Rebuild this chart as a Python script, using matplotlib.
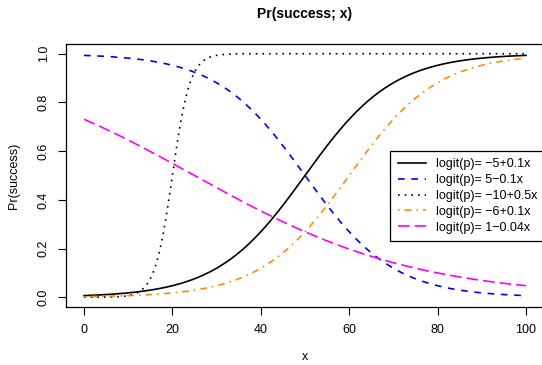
import matplotlib
matplotlib.use("Agg")
import matplotlib.pyplot as plt
import numpy as np

plt.rcParams["font.family"] = ["Liberation Sans", "DejaVu Sans"]

# logistic models: logit(p) = intercept + slope * x
intercepts = [-5, 5, -10, -6, 1]
slopes = [0.1, -0.1, 0.5, 0.1, -0.04]
labels = [
    "logit(p)= \u22125+0.1x",
    "logit(p)= 5\u22120.1x",
    "logit(p)= \u221210+0.5x",
    "logit(p)= \u22126+0.1x",
    "logit(p)= 1\u22120.04x",
]
colors = ["black", "blue", "black", "darkorange", "magenta"]
styles = ["-", (0, (4, 4)), (0, (1, 3)), (0, (1, 3, 4, 3)), (0, (7, 3))]
x = np.linspace(0, 100, 401)

fig = plt.figure(figsize=(5.42, 3.65), dpi=100)
ax = fig.add_axes([66.3 / 542, 1 - 307 / 365, (543.7 - 66.3) / 542, (307 - 44) / 365])

for b0, b1, lab, col, ls in zip(intercepts, slopes, labels, colors, styles):
    p = 1.0 / (1.0 + np.exp(-(b0 + b1 * x)))
    ax.plot(x, p, color=col, linestyle=ls, linewidth=1.2, label=lab)

ax.set_xlim(-4, 104)
ax.set_ylim(-0.04, 1.04)
ax.set_xticks([0, 20, 40, 60, 80, 100])
ax.set_yticks([0.0, 0.2, 0.4, 0.6, 0.8, 1.0])
ax.set_yticklabels(["0.0", "0.2", "0.4", "0.6", "0.8", "1.0"], rotation=90, va="center")
ax.tick_params(direction="out", length=6, width=0.8, labelsize=9, pad=6)
for s in ax.spines.values():
    s.set_linewidth(0.9)

ax.set_xlabel("x", fontsize=9, labelpad=11)
ax.set_ylabel("Pr(success)", fontsize=9, labelpad=13)
fig.text(0.5 * (66.3 + 543.7) / 542, 1 - 14 / 365, "Pr(success; x)",
         ha="center", va="center", fontsize=10, fontweight="bold")

leg = ax.legend(loc="upper left", bbox_to_anchor=(390 / 542, 1 - 151 / 365),
                bbox_transform=fig.transFigure, borderaxespad=0, fontsize=9,
                handlelength=2.3, handletextpad=0.8, labelspacing=0.3,
                borderpad=0.6, fancybox=False, framealpha=1, edgecolor="black")
leg.get_frame().set_linewidth(0.9)

fig.savefig("out.png", dpi=100)
